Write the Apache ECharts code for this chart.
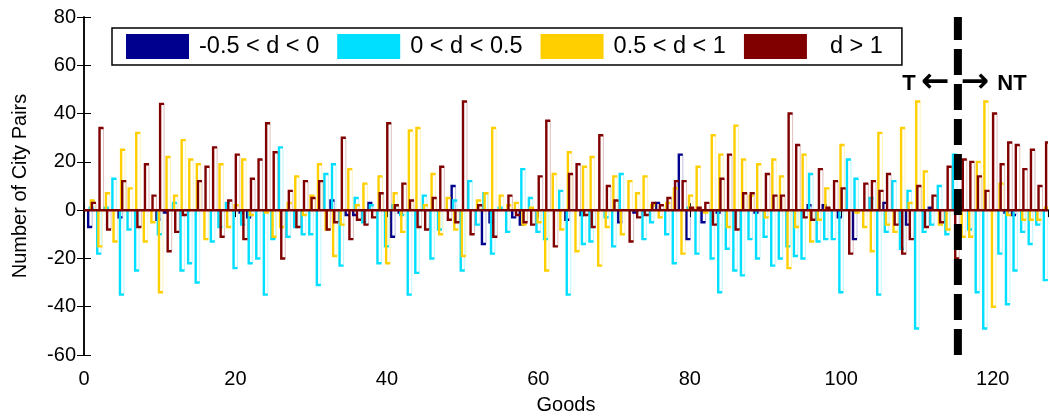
<!DOCTYPE html>
<html>
<head>
<meta charset="utf-8">
<script src="https://cdn.jsdelivr.net/npm/echarts@6/dist/echarts.min.js"></script>
<style>
  html, body { margin: 0; background: #fff; }
  #chart { width: 1050px; height: 420px; }
</style>
</head>
<body>
<div id="chart"></div>
<script>
// Goods 1..127, number of city pairs per class (positive and negative parts)
const goods = Array.from({ length: 127 }, (_, i) => i + 1);
const seriesNames = ['-0.5 < d < 0', '0 < d < 0.5', '0.5 < d < 1', '  d > 1'];

const bluePos = [
  0,0,0,0,0,0,0,0,0,0, 0,0,0,0,0,0,0,0,0,0, 0,0,0,0,0,0,0,0,0,0,
  0,0,4,0,0,0,0,3,0,0, 0,0,0,0,0,0,0,0,10,0, 0,0,0,0,0,0,0,0,0,0,
  0,0,0,0,0,0,0,0,0,0, 0,0,0,0,0,3,0,0,23,0, 0,0,0,0,0,0,0,0,0,0,
  0,0,0,0,0,2,0,2,0,0, 0,0,0,0,0,3,0,0,0,0, 0,1,0,0,0,1,0,0,0,0,
  0,0,0,0,0,0,0
];
const blueNeg = [
  -7,0,0,0,-3,0,0,0,0,-4, -1,0,0,0,0,0,0,0,0,0, -1,-3,0,0,0,0,0,0,0,0,
  0,0,0,0,-2,-2,0,0,0,0, -11,-1,0,0,0,0,0,0,0,0, 0,0,-14,-5,0,0,-3,-6,0,0,
  0,0,0,-4,0,-2,0,0,0,0, -5,0,-1,0,0,0,0,0,0,-12, 0,-5,0,-1,0,0,0,0,-1,0,
  0,0,0,0,0,0,0,0,0,-3, 0,-12,0,0,0,0,0,0,-6,0, 0,0,0,0,0,0,0,0,0,0,
  0,-1,-2,0,0,0,0
];
const cyanPos = [
  1,0,1,13,0,0,0,0,0,0, 0,3,0,0,0,0,0,0,3,0, 0,0,0,0,0,26,0,0,0,0,
  0,15,19,0,0,5,0,2,0,0, 2,0,0,0,6,0,0,0,4,0, 12,0,7,0,1,0,0,17,5,0,
  0,0,8,0,0,0,0,0,0,0, 15,0,0,0,0,0,0,0,0,1, 0,0,0,0,0,0,0,0,0,0,
  0,0,0,0,0,15,0,0,0,0, 21,13,0,5,0,0,12,0,8,0, 0,0,10,0,23,0,0,0,0,0,
  0,0,0,0,0,0,0
];
const cyanNeg = [
  0,-18,0,0,-35,-8,-25,0,0,-10, 0,0,-25,-22,-30,0,-13,-7,0,-24, -6,-22,-20,-35,-12,0,-11,-7,-10,-10,
  -31,0,0,-23,0,0,-5,0,-22,-15, 0,-2,-35,-26,0,-20,-8,0,0,-25, 0,-6,0,-18,0,-9,0,0,0,-9,
  -12,0,0,-35,0,-14,-13,0,-3,-15, 0,0,0,-12,-5,0,-10,-22,0,0, -18,0,-20,-34,-16,-25,-27,-12,-20,-11,
  -23,-20,-15,-19,-20,0,-13,-12,-12,-34, 0,0,0,0,-35,-9,0,-16,0,-49, -9,-6,0,-10,0,0,-8,-34,-49,0,
  -18,-39,-25,-9,-14,-6,-29
];
const yellowPos = [
  4,0,7,0,25,9,32,0,0,0, 22,6,29,21,19,0,0,19,0,2, 21,0,0,0,0,0,3,14,0,6,
  19,0,0,0,17,2,11,0,14,0, 7,0,33,34,2,15,0,5,0,0, 0,4,7,34,6,2,3,0,1,0,
  0,15,0,24,0,18,22,0,0,14, 0,12,7,14,2,0,3,9,0,6, 18,0,31,23,0,35,21,6,19,0,
  21,14,0,0,23,0,0,9,0,27, 0,0,0,0,32,0,0,34,3,45, 16,0,0,0,0,0,0,20,45,0,
  11,0,0,0,0,0,1
];
const yellowNeg = [
  0,-15,0,-13,0,0,0,-13,-5,-34, 0,0,0,0,0,-12,0,0,-7,0, 0,-2,0,-1,-11,-7,0,0,-2,0,
  0,-8,-19,-6,0,0,0,0,0,-22, 0,-9,0,0,0,0,-10,0,-8,-19, 0,0,0,0,0,0,0,-6,0,-5,
  -25,0,-8,0,-17,0,0,-23,-7,0, -10,0,0,0,0,-3,0,0,-18,0, 0,-1,0,0,-7,0,0,0,0,-3,
  0,0,-24,-7,0,-13,-4,0,0,0, 0,-1,-7,-17,0,-6,-9,0,0,0, 0,0,-6,-8,0,-11,-11,0,0,-40,
  0,-2,0,-4,-4,-4,0
];
const redPos = [
  3,34,0,0,12,0,0,19,6,44, 0,0,0,0,12,18,26,0,4,23, 0,13,21,36,24,0,8,0,12,5,
  12,0,0,30,0,0,0,0,7,36, 2,11,4,0,0,5,18,0,0,45, 0,2,0,0,0,6,0,0,0,14,
  37,0,0,15,19,0,0,31,10,4, 0,0,0,0,3,2,5,12,12,1, 1,3,0,13,23,0,7,7,0,15,
  6,6,40,27,0,0,17,1,12,9, 0,0,11,12,8,15,0,0,0,10, 0,6,0,18,0,21,20,14,8,40,
  19,28,27,17,25,10,28
];
const redNeg = [
  0,0,-8,0,0,0,-7,0,0,0, -17,-9,-2,0,0,0,0,-11,0,0, -12,0,0,0,0,-20,0,-7,0,0,
  0,-8,-5,0,-12,-4,-6,-3,0,0, 0,0,0,-7,-8,0,0,-4,-5,0, -10,0,0,-11,0,0,-2,-5,-6,0,
  0,-15,0,0,0,-2,-7,0,0,0, 0,-13,-3,-2,0,0,0,0,0,0, 0,0,-6,0,0,-8,0,0,0,0,
  0,0,0,0,-3,-4,0,0,0,0, -18,0,0,0,0,0,-6,-18,-12,0, -7,0,-5,0,-20,0,0,0,0,0,
  0,0,0,0,0,0,0
];

const xMax = 127.3;
const splitAt = 115.4;
const colors = ['#00008F', '#00DFFF', '#FFCF00', '#800000'];
const offsets = [-0.45, -0.25, -0.1, 0.05];
const fontFamily = '"Liberation Sans", Arial, sans-serif';

// MATLAB-style thin bars: left edge plus a cap, faint right edge
const makeRender = (offset, color) => (params, api) => {
  const n = api.value(0);
  const children = [];
  [api.value(1), api.value(2)].forEach((v) => {
    if (!v) return;
    const base = api.coord([n + offset, 0]);
    const end = api.coord([n + offset, v]);
    const x = base[0];
    const w = 4;
    children.push({
      type: 'polyline',
      shape: { points: [[x + w, end[1]], [x + w, base[1]]] },
      style: { stroke: color, lineWidth: 1, fill: null, opacity: 0.25 },
    });
    children.push({
      type: 'polyline',
      shape: { points: [[x, base[1]], [x, end[1]], [x + w, end[1]]] },
      style: { stroke: color, lineWidth: 2.4, fill: null },
    });
  });
  return { type: 'group', children };
};

const groups = [
  [bluePos, blueNeg],
  [cyanPos, cyanNeg],
  [yellowPos, yellowNeg],
  [redPos, redNeg],
];

const barSeries = groups.map(([pos, neg], s) => ({
  name: seriesNames[s],
  type: 'custom',
  renderItem: makeRender(offsets[s], colors[s]),
  itemStyle: { color: colors[s] },
  encode: { x: 0, y: [1, 2] },
  clip: true,
  data: goods.map((g, i) => [g, pos[i], neg[i]]),
  z: 2 + s,
}));

const axisCommon = {
  type: 'value',
  axisLine: { show: true, lineStyle: { color: '#000', width: 1.5 } },
  axisTick: { show: true, inside: true, length: 7, lineStyle: { color: '#000', width: 1 } },
  splitLine: { show: false },
};

const boldFont = (size, family) => `bold ${size}px ${family}`;

const chart = echarts.init(document.getElementById('chart'));
chart.setOption({
  animation: false,
  backgroundColor: '#fff',
  grid: { left: 84, right: 2, top: 17, bottom: 62 },
  legend: {
    data: seriesNames,
    left: 112,
    top: 28,
    icon: 'rect',
    itemWidth: 63,
    itemHeight: 25,
    itemGap: 18,
    padding: [6, 19, 6, 14],
    borderColor: '#000',
    borderWidth: 1.5,
    backgroundColor: '#fff',
    textStyle: { color: '#000', fontSize: 23.5, fontFamily, padding: [0, 0, 0, 5] },
    selectedMode: false,
  },
  xAxis: [
    {
      ...axisCommon,
      min: 0, max: xMax, interval: 20,
      position: 'bottom',
      axisLabel: { color: '#000', fontSize: 20, fontFamily, margin: 14, showMaxLabel: false },
      name: 'Goods',
      nameLocation: 'middle',
      nameGap: 40,
      nameTextStyle: { color: '#000', fontSize: 20, fontFamily },
    },
    {
      ...axisCommon,
      min: 0, max: xMax, interval: 20,
      position: 'top',
      axisLabel: { show: false },
    },
  ],
  yAxis: [
    {
      ...axisCommon,
      min: -60, max: 80, interval: 20,
      position: 'left',
      axisLabel: { color: '#000', fontSize: 20, fontFamily, margin: 8 },
      name: 'Number of City Pairs',
      nameLocation: 'middle',
      nameGap: 54,
      nameTextStyle: { color: '#000', fontSize: 20, fontFamily },
    },
    {
      ...axisCommon,
      min: -60, max: 80, interval: 20,
      position: 'right',
      axisLabel: { show: false },
    },
  ],
  series: [
    ...barSeries,
    {
      type: 'line',
      data: [[0, 0], [xMax, 0]],
      symbol: 'none',
      lineStyle: { color: '#7A0000', width: 2.5 },
      silent: true,
      z: 8,
    },
    {
      type: 'line',
      data: [[splitAt, -60], [splitAt, 80]],
      symbol: 'none',
      lineStyle: { color: '#000', width: 8, type: [26, 9] },
      silent: true,
      z: 9,
    },
  ],
  graphic: [
    {
      type: 'text', z: 20,
      style: { text: 'T', x: 909, y: 84, align: 'center', verticalAlign: 'middle',
        font: boldFont(22, fontFamily), fill: '#000' },
    },
    {
      type: 'text', z: 20,
      style: { text: '\u2190', x: 935, y: 83, align: 'center', verticalAlign: 'middle',
        font: boldFont(34, '"DejaVu Sans", sans-serif'), fill: '#000' },
    },
    {
      type: 'text', z: 20,
      style: { text: '\u2192', x: 975, y: 83, align: 'center', verticalAlign: 'middle',
        font: boldFont(34, '"DejaVu Sans", sans-serif'), fill: '#000' },
    },
    {
      type: 'text', z: 20,
      style: { text: 'NT', x: 1012, y: 84, align: 'center', verticalAlign: 'middle',
        font: boldFont(22, fontFamily), fill: '#000' },
    },
  ],
});
</script>
</body>
</html>
